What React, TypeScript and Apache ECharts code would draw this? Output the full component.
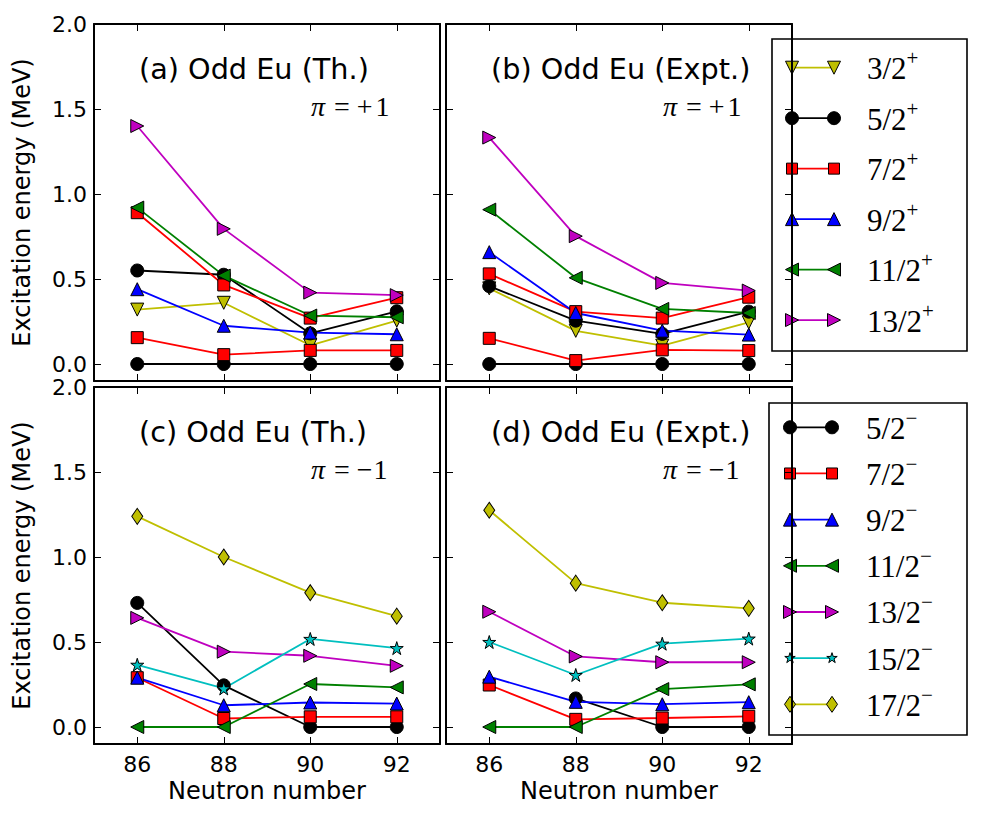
import React, { useEffect, useRef } from 'react';
import * as echarts from 'echarts';

// ---------------- data ----------------
const neutronNumbers = [86, 88, 90, 92];
const xTickValues = [86, 88, 90, 92];
const yTickValues = [0, 0.5, 1.0, 1.5, 2.0];

// (a) Odd Eu (Th.), positive parity
const thPos32 = [0.32, 0.36, 0.11, 0.255];
const thPos52a = [0.0, 0.0, 0.0, 0.0];
const thPos52b = [0.55, 0.525, 0.18, 0.31];
const thPos72a = [0.155, 0.055, 0.08, 0.08];
const thPos72b = [0.89, 0.465, 0.27, 0.39];
const thPos92 = [0.44, 0.225, 0.185, 0.175];
const thPos112 = [0.92, 0.52, 0.285, 0.275];
const thPos132 = [1.4, 0.795, 0.42, 0.405];

// (b) Odd Eu (Expt.), positive parity
const exPos32 = [0.445, 0.195, 0.108, 0.245];
const exPos52a = [0.0, 0.0, 0.0, 0.0];
const exPos52b = [0.458, 0.255, 0.177, 0.308];
const exPos72a = [0.151, 0.02, 0.083, 0.079];
const exPos72b = [0.53, 0.308, 0.27, 0.393];
const exPos92 = [0.658, 0.3, 0.196, 0.173];
const exPos112 = [0.908, 0.507, 0.324, 0.3];
const exPos132 = [1.332, 0.752, 0.477, 0.432];

// (c) Odd Eu (Th.), negative parity
const thNeg52 = [0.73, 0.245, 0.0, 0.0];
const thNeg72 = [0.29, 0.05, 0.06, 0.06];
const thNeg92 = [0.29, 0.128, 0.144, 0.138];
const thNeg112 = [0.0, 0.0, 0.253, 0.233];
const thNeg132 = [0.642, 0.443, 0.419, 0.36];
const thNeg152 = [0.366, 0.227, 0.518, 0.464];
const thNeg172 = [1.239, 1.0, 0.79, 0.652];

// (d) Odd Eu (Expt.), negative parity
const exNeg52 = [null, 0.168, 0.0, 0.0];
const exNeg72 = [0.247, 0.045, 0.053, 0.063];
const exNeg92 = [0.296, 0.148, 0.134, 0.146];
const exNeg112 = [0.0, 0.0, 0.223, 0.251];
const exNeg132 = [0.678, 0.415, 0.381, 0.381];
const exNeg152 = [0.5, 0.306, 0.49, 0.52];
const exNeg172 = [1.275, 0.846, 0.731, 0.698];

const posLabels = ['3/2', '5/2', '7/2', '9/2', '11/2', '13/2'];
const negLabels = ['5/2', '7/2', '9/2', '11/2', '13/2', '15/2', '17/2'];
const panelTitles = ['(a) Odd Eu (Th.)', '(b) Odd Eu (Expt.)', '(c) Odd Eu (Th.)', '(d) Odd Eu (Expt.)'];

// ---------------- styles ----------------
const C = {
  y: '#bfbf00',
  k: '#000000',
  r: '#ff0000',
  b: '#0000ff',
  g: '#008000',
  m: '#bf00bf',
  c: '#00bfbf',
};

type Kind = 'circle' | 'square' | 'down' | 'up' | 'left' | 'right' | 'diamond' | 'star';

const STAR_PTS: number[][] = [
  [0, -10], [2.25, -3.09], [9.51, -3.09], [3.63, 1.18], [5.88, 8.09],
  [0, 3.82], [-5.88, 8.09], [-3.63, 1.18], [-9.51, -3.09], [-2.25, -3.09],
];
const STAR_PATH = 'path://M' + STAR_PTS.map((p) => p.join(',')).join('L') + 'Z';

const posStyles: { color: string; kind: Kind }[] = [
  { color: C.y, kind: 'down' },
  { color: C.k, kind: 'circle' },
  { color: C.r, kind: 'square' },
  { color: C.b, kind: 'up' },
  { color: C.g, kind: 'left' },
  { color: C.m, kind: 'right' },
];
const negStyles: { color: string; kind: Kind }[] = [
  { color: C.k, kind: 'circle' },
  { color: C.r, kind: 'square' },
  { color: C.b, kind: 'up' },
  { color: C.g, kind: 'left' },
  { color: C.m, kind: 'right' },
  { color: C.c, kind: 'star' },
  { color: C.y, kind: 'diamond' },
];

function symbolOf(kind: Kind): { symbol: string; symbolSize: any; symbolRotate: number } {
  switch (kind) {
    case 'circle':
      return { symbol: 'circle', symbolSize: 13, symbolRotate: 0 };
    case 'square':
      return { symbol: 'rect', symbolSize: 12, symbolRotate: 0 };
    case 'down':
      return { symbol: 'triangle', symbolSize: 13, symbolRotate: 180 };
    case 'up':
      return { symbol: 'triangle', symbolSize: 13, symbolRotate: 0 };
    case 'left':
      return { symbol: 'triangle', symbolSize: 13, symbolRotate: 90 };
    case 'right':
      return { symbol: 'triangle', symbolSize: 13, symbolRotate: -90 };
    case 'diamond':
      return { symbol: 'diamond', symbolSize: [11, 16], symbolRotate: 0 };
    case 'star':
      return { symbol: STAR_PATH, symbolSize: 13, symbolRotate: 0 };
  }
}

const FONT = 'DejaVu Sans';
const SERIF = 'Liberation Serif';

// grid geometry (layout)
const GRIDS = [
  { left: 94, top: 24 },
  { left: 446, top: 24 },
  { left: 94, top: 387 },
  { left: 446, top: 387 },
];
const GW = 346;
const GH = 357;

function makeSeries(name: string, values: (number | null)[], st: { color: string; kind: Kind }, g: number) {
  const sym = symbolOf(st.kind);
  const data: number[][] = [];
  neutronNumbers.forEach((x, i) => {
    const v = values[i];
    if (v !== null && v !== undefined) data.push([x, v]);
  });
  return {
    type: 'line',
    name,
    xAxisIndex: g * 2,
    yAxisIndex: g * 2,
    data,
    symbol: sym.symbol,
    symbolSize: sym.symbolSize,
    symbolRotate: sym.symbolRotate,
    showAllSymbol: true,
    clip: false,
    lineStyle: { color: st.color, width: 1.8 },
    itemStyle: { color: st.color, borderColor: '#000', borderWidth: 1, opacity: 1 },
    emphasis: { disabled: true },
    silent: true,
  };
}

function legendMarker(kind: Kind, cx: number, cy: number, color: string, s: number): any {
  const style = { fill: color, stroke: '#000', lineWidth: 1 };
  const h = s / 2;
  const poly = (pts: number[][]) => ({ type: 'polygon', shape: { points: pts }, style });
  switch (kind) {
    case 'circle':
      return { type: 'circle', shape: { cx, cy, r: h }, style };
    case 'square':
      return { type: 'rect', shape: { x: cx - h + 0.5, y: cy - h + 0.5, width: s - 1, height: s - 1 }, style };
    case 'down':
      return poly([[cx - h, cy - h], [cx + h, cy - h], [cx, cy + h]]);
    case 'up':
      return poly([[cx - h, cy + h], [cx + h, cy + h], [cx, cy - h]]);
    case 'left':
      return poly([[cx + h, cy - h], [cx + h, cy + h], [cx - h, cy]]);
    case 'right':
      return poly([[cx - h, cy - h], [cx - h, cy + h], [cx + h, cy]]);
    case 'diamond':
      return poly([[cx, cy - 8], [cx + 5.5, cy], [cx, cy + 8], [cx - 5.5, cy]]);
    case 'star':
      return poly(STAR_PTS.map((p) => [cx + p[0] * 0.55, cy + p[1] * 0.55]));
  }
}

const legendRich = {
  m: { fontFamily: SERIF, fontSize: 31, lineHeight: 42, fill: '#000' },
  s: { fontFamily: SERIF, fontSize: 21, lineHeight: 22, verticalAlign: 'top', fill: '#000' },
};

function legendBlock(
  box: { x: number; y: number; w: number; h: number },
  rows: { label: string; sign: string; color: string; kind: Kind }[],
  y0: number,
  dy: number,
  x1: number,
  x2: number,
  tx: number,
  markerSize: (k: Kind) => number
): any[] {
  const els: any[] = [
    {
      type: 'rect',
      shape: { x: box.x, y: box.y, width: box.w, height: box.h },
      style: { fill: '#fff', stroke: '#000', lineWidth: 1.6 },
    },
  ];
  rows.forEach((r, i) => {
    const cy = y0 + dy * i;
    els.push({ type: 'line', shape: { x1, y1: cy, x2, y2: cy }, style: { stroke: r.color, lineWidth: 1.8 } });
    els.push(legendMarker(r.kind, x1, cy, r.color, markerSize(r.kind)));
    els.push(legendMarker(r.kind, x2, cy, r.color, markerSize(r.kind)));
    els.push({
      type: 'text',
      x: tx,
      y: cy + 1,
      style: {
        text: '{m|' + r.label + '}{s|' + r.sign + '}',
        rich: legendRich,
        fontFamily: SERIF,
        fontSize: 31,
        verticalAlign: 'middle',
        align: 'left',
        fill: '#000',
      },
    });
  });
  return els;
}

function buildOption(): any {
  const grid = GRIDS.map((g) => ({ left: g.left, top: g.top, width: GW, height: GH, containLabel: false }));
  const xAxis: any[] = [];
  const yAxis: any[] = [];
  GRIDS.forEach((_, g) => {
    const isBottom = g >= 2;
    const isLeft = g % 2 === 0;
    const tickStyle = { show: true, inside: true, length: 7, lineStyle: { color: '#000', width: 1 } };
    const lineStyle = { show: true, onZero: false, lineStyle: { color: '#000', width: 2 } };
    xAxis.push({
      type: 'value',
      gridIndex: g,
      position: 'bottom',
      min: 85,
      max: 93,
      axisLine: lineStyle,
      axisTick: { ...tickStyle, customValues: xTickValues },
      axisLabel: {
        show: isBottom,
        customValues: xTickValues,
        fontFamily: FONT,
        fontSize: 22,
        color: '#000',
        margin: 9,
      },
      splitLine: { show: false },
      name: isBottom ? 'Neutron number' : '',
      nameLocation: 'middle',
      nameGap: 35,
      nameTextStyle: { fontFamily: FONT, fontSize: 24, color: '#000' },
    });
    xAxis.push({
      type: 'value',
      gridIndex: g,
      position: 'top',
      min: 85,
      max: 93,
      axisLine: lineStyle,
      axisTick: { ...tickStyle, customValues: xTickValues },
      axisLabel: { show: false },
      splitLine: { show: false },
    });
    yAxis.push({
      type: 'value',
      gridIndex: g,
      position: 'left',
      min: -0.1,
      max: 2.0,
      axisLine: lineStyle,
      axisTick: { ...tickStyle, customValues: yTickValues },
      axisLabel: {
        show: isLeft,
        customValues: yTickValues,
        formatter: (v: number) => v.toFixed(1),
        fontFamily: FONT,
        fontSize: 22,
        color: '#000',
        margin: 7,
      },
      splitLine: { show: false },
      name: isLeft ? 'Excitation energy (MeV)' : '',
      nameLocation: 'middle',
      nameRotate: 90,
      nameGap: 60,
      nameTextStyle: { fontFamily: FONT, fontSize: 24, color: '#000' },
    });
    yAxis.push({
      type: 'value',
      gridIndex: g,
      position: 'right',
      min: -0.1,
      max: 2.0,
      axisLine: lineStyle,
      axisTick: { ...tickStyle, customValues: yTickValues },
      axisLabel: { show: false },
      splitLine: { show: false },
    });
  });

  const series: any[] = [];
  const posTh = [[thPos32], [thPos52a, thPos52b], [thPos72a, thPos72b], [thPos92], [thPos112], [thPos132]];
  const posEx = [[exPos32], [exPos52a, exPos52b], [exPos72a, exPos72b], [exPos92], [exPos112], [exPos132]];
  const negTh = [thNeg52, thNeg72, thNeg92, thNeg112, thNeg132, thNeg152, thNeg172];
  const negEx = [exNeg52, exNeg72, exNeg92, exNeg112, exNeg132, exNeg152, exNeg172];

  posTh.forEach((arrs, i) => arrs.forEach((a) => series.push(makeSeries(posLabels[i] + '+', a, posStyles[i], 0))));
  posEx.forEach((arrs, i) => arrs.forEach((a) => series.push(makeSeries(posLabels[i] + '+', a, posStyles[i], 1))));
  negTh.forEach((a, i) => series.push(makeSeries(negLabels[i] + '-', a, negStyles[i], 2)));
  negEx.forEach((a, i) => series.push(makeSeries(negLabels[i] + '-', a, negStyles[i], 3)));

  const graphic: any[] = [];
  GRIDS.forEach((g, i) => {
    graphic.push({
      type: 'text',
      x: g.left + 45,
      y: g.top + 45,
      style: {
        text: panelTitles[i],
        fontFamily: FONT,
        fontSize: 28.7,
        fill: '#000',
        verticalAlign: 'middle',
        align: 'left',
      },
      z: 50,
    });
    const plus = i < 2;
    graphic.push({
      type: 'text',
      x: g.left + 217,
      y: g.top + 82,
      style: {
        text: plus ? '{pi|π}{eq|=}{op|+}{one|1}' : '{pi|π}{eq|=}{opm|−}{onem|1}',
        rich: {
          pi: { fontFamily: SERIF, fontStyle: 'italic', fontSize: 28, fill: '#000' },
          eq: { fontFamily: SERIF, fontSize: 28, fill: '#000', padding: [0, 0, 0, 9] },
          op: { fontFamily: SERIF, fontSize: 28, fill: '#000', padding: [0, 0, 0, 7] },
          one: { fontFamily: SERIF, fontSize: 28, fill: '#000', padding: [0, 0, 0, 3] },
          opm: { fontFamily: SERIF, fontSize: 28, fill: '#000', padding: [0, 0, 0, 7] },
          onem: { fontFamily: SERIF, fontSize: 28, fill: '#000', padding: [0, 0, 0, 1] },
        },
        fontFamily: SERIF,
        fontSize: 28,
        fill: '#000',
        verticalAlign: 'middle',
        align: 'left',
      },
      z: 50,
    });
  });

  const sizeFn = (k: Kind) => (k === 'square' ? 12 : k === 'star' ? 10 : 13);
  const topLegend = legendBlock(
    { x: 772, y: 39, w: 195, h: 312 },
    posLabels.map((l, i) => ({ label: l, sign: '+', color: posStyles[i].color, kind: posStyles[i].kind })),
    67.7,
    50.47,
    792,
    834,
    867,
    sizeFn
  );
  const botLegend = legendBlock(
    { x: 769, y: 403, w: 198, h: 332 },
    negLabels.map((l, i) => ({ label: l, sign: '−', color: negStyles[i].color, kind: negStyles[i].kind })),
    427.3,
    46.17,
    790,
    832,
    866,
    sizeFn
  );
  graphic.push({ type: 'group', z: 100, children: topLegend });
  graphic.push({ type: 'group', z: 100, children: botLegend });

  return {
    animation: false,
    backgroundColor: '#fff',
    grid,
    xAxis,
    yAxis,
    series,
    graphic,
  };
}

export default function App() {
  const ref = useRef<HTMLDivElement>(null);
  useEffect(() => {
    if (!ref.current) return;
    const chart = echarts.init(ref.current, undefined, { renderer: 'svg' });
    chart.setOption(buildOption());
    return () => chart.dispose();
  }, []);
  return (
    <div
      ref={ref}
      style={{ position: 'absolute', left: 0, top: 0, width: 982, height: 817, background: '#fff' }}
    />
  );
}
